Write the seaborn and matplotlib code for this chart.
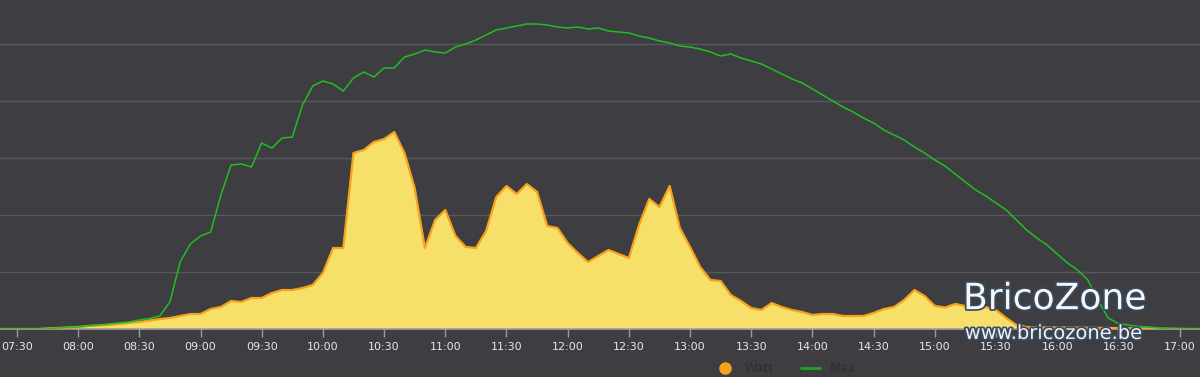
import matplotlib
matplotlib.use("Agg")
import matplotlib.pyplot as plt
import matplotlib.patheffects as pe
from matplotlib.lines import Line2D
import seaborn as sns
import pandas as pd

# ---------- DATA (5 minute samples, 07:20 -> 17:10) ----------
watt = [0, 0, 0, 0, 0,
        9, 18, 26, 35, 53, 61, 70, 88, 105, 123,
        149, 175, 193, 228, 263, 263, 351, 386, 491, 474,
        544, 544, 632, 684, 684, 719, 772, 982, 1421, 1421,
        3088, 3140, 3281, 3333, 3456, 3088, 2474, 1421, 1912, 2088,
        1632, 1439, 1421, 1719, 2316, 2509, 2368, 2544, 2404, 1807,
        1772, 1509, 1333, 1175, 1281, 1386, 1316, 1246, 1825, 2281,
        2140, 2509, 1772, 1439, 1088, 860, 842, 596, 491, 368,
        333, 456, 386, 333, 298, 246, 263, 263, 228, 228,
        228, 281, 351, 386, 509, 684, 579, 404, 377, 439,
        404, 386, 386, 333, 193, 70, 35, 30, 28, 26,
        25, 24, 22, 20, 18, 16, 14, 12, 10, 8,
        5, 3, 0, 0]

max_w = [0, 0, 0, 0, 0,
         0, 18, 26, 35, 53, 70, 88, 105, 123, 158,
         184, 228, 474, 1175, 1491, 1632, 1702, 2351, 2877, 2895,
         2842, 3263, 3175, 3351, 3368, 3930, 4263, 4351, 4298, 4175,
         4404, 4509, 4421, 4579, 4579, 4772, 4825, 4895, 4860, 4842,
         4947, 5000, 5070, 5158, 5246, 5281, 5316, 5351, 5351, 5333,
         5298, 5281, 5298, 5263, 5281, 5228, 5211, 5193, 5140, 5105,
         5053, 5018, 4965, 4947, 4912, 4860, 4789, 4825, 4754, 4702,
         4649, 4561, 4474, 4386, 4316, 4211, 4105, 4000, 3895, 3807,
         3702, 3614, 3491, 3404, 3316, 3193, 3088, 2965, 2860, 2719,
         2579, 2439, 2333, 2211, 2088, 1912, 1737, 1596, 1474, 1316,
         1158, 1035, 860, 509, 193, 96, 70, 44, 35, 18,
         0, 0, 0, 0]

tick_labels = ["07:30", "08:00", "08:30", "09:00", "09:30", "10:00", "10:30",
               "11:00", "11:30", "12:00", "12:30", "13:00", "13:30", "14:00",
               "14:30", "15:00", "15:30", "16:00", "16:30", "17:00"]

# minutes since midnight
times = pd.date_range("2020-01-01 07:20", periods=len(watt), freq="5min")
minutes = times.hour * 60 + times.minute
df = pd.DataFrame({"t": minutes, "Watt": watt, "Max": max_w})

tick_pos = [int(s[:2]) * 60 + int(s[3:]) for s in tick_labels]

# ---------- STYLE ----------
bg = "#3e3d42"
sns.set_style("dark", {"axes.facecolor": bg, "figure.facecolor": bg})

fig = plt.figure(figsize=(12, 3.77), dpi=100)
ax = fig.add_axes([0, 1 - 329 / 377, 1, 329 / 377])
ax.set_facecolor(bg)

# ---------- PLOT ----------
ax.fill_between(df["t"], df["Watt"], color="#f6e06a", zorder=2, linewidth=0)
sns.lineplot(data=df, x="t", y="Watt", ax=ax, color="#f7a21b", linewidth=1.6, zorder=3)
sns.lineplot(data=df, x="t", y="Max", ax=ax, color="#1fbf1f", linewidth=1.1, zorder=4)

ax.set_xlim(441.7, 1030.0)
ax.set_ylim(0, 5772)
ax.set_yticks([1000, 2000, 3000, 4000, 5000])
ax.set_yticklabels([])
ax.yaxis.grid(True, color="#58585d", linewidth=1.0)
ax.xaxis.grid(False)
ax.tick_params(axis="y", length=0)

ax.set_xticks(tick_pos)
ax.set_xticklabels(tick_labels)
ax.tick_params(axis="x", direction="out", length=6, width=1, color="#9a9a9e",
               labelsize=8, labelcolor="#e8e8ec", pad=3, bottom=True)
ax.set_xlabel("")
ax.set_ylabel("")

for s in ["left", "right", "top"]:
    ax.spines[s].set_visible(False)
ax.spines["bottom"].set_color("#a0a0a4")
ax.spines["bottom"].set_linewidth(1.2)

# ---------- LEGEND ----------
handles = [
    Line2D([], [], marker="o", linestyle="none", markersize=8,
           markerfacecolor="#f7a21b", markeredgecolor="#f7a21b"),
    Line2D([], [], color="#1fa51f", linewidth=2),
]
leg = fig.legend(handles, ["Watt", "Max"], loc="center", bbox_to_anchor=(0.655, 0.022),
                 ncol=2, frameon=False, fontsize=9, columnspacing=2.2, handlelength=1.5)
for t in leg.get_texts():
    t.set_color("#2e2e32")

# ---------- WATERMARK ----------
outline = [pe.withStroke(linewidth=2.5, foreground="#3b4b5e")]
fig.text(0.8025, 0.180, "BricoZone", fontsize=26, color="#f4f7fb",
         family="DejaVu Sans", path_effects=outline, zorder=10)
fig.text(0.804, 0.101, "www.bricozone.be", fontsize=14, color="#eef3fa",
         family="DejaVu Sans", path_effects=outline, zorder=10)

fig.savefig("out.png", dpi=100, facecolor=bg)
